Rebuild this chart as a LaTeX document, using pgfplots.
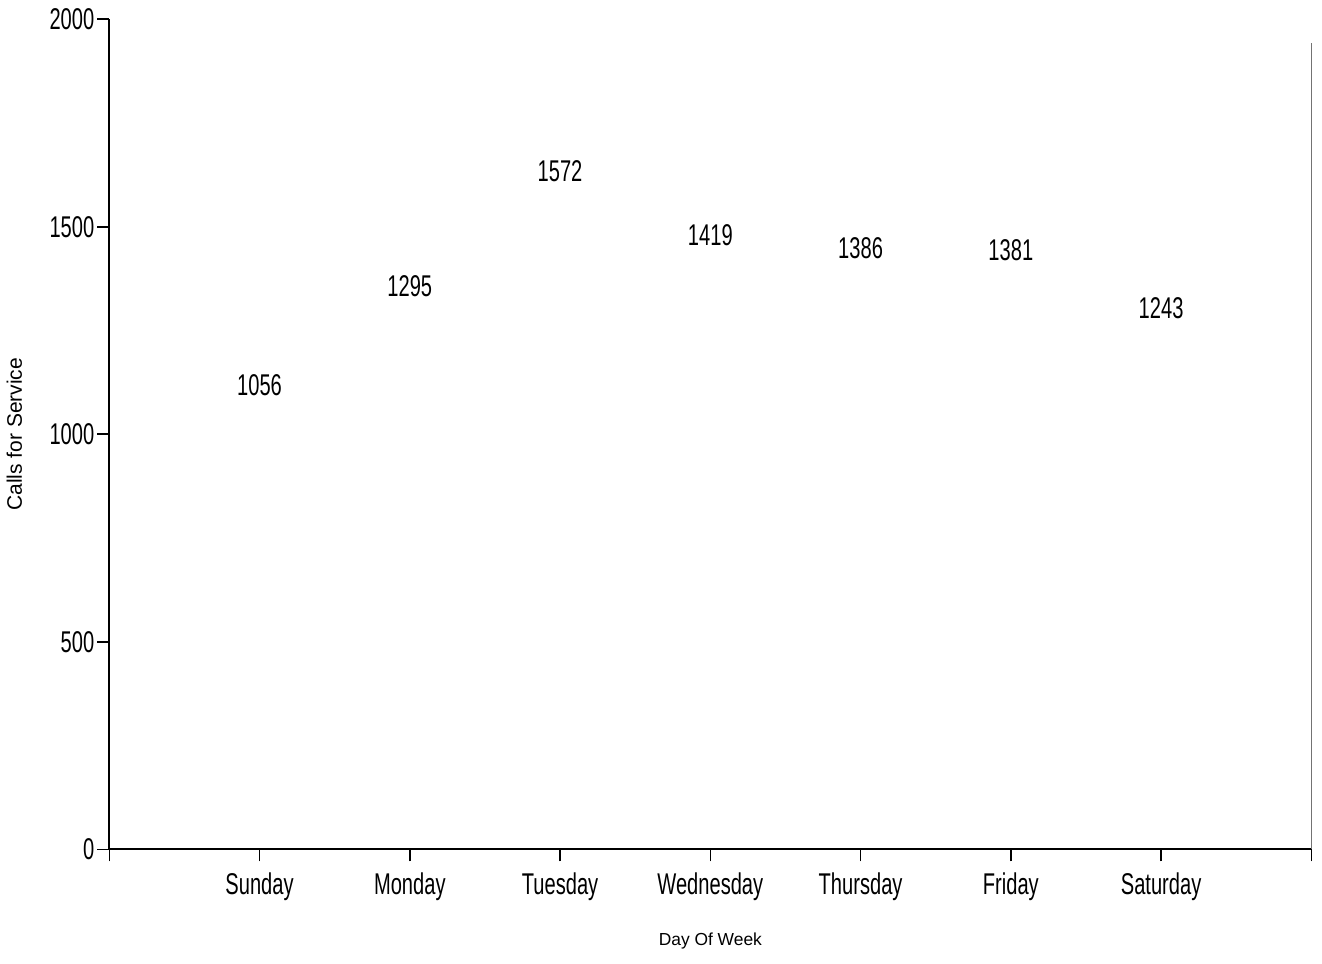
\documentclass[border={0bp 4bp 2bp 1bp}]{standalone}
\usepackage{pgfplots}
\pgfplotsset{compat=1.18}
\usepackage{fontspec}
\setmainfont{Liberation Sans}
\newfontfamily\narrowfont[FakeStretch=0.67]{Liberation Sans}

\begin{document}
\begin{tikzpicture}
\begin{axis}[
    scale only axis,
    width=601bp, height=415bp,
    xmin=0, xmax=8, ymin=0, ymax=2000,
    axis x line*=bottom, axis y line*=left,
    axis line style={line width=0.9pt, -},
    xtick={0,...,8},
    xticklabels={{},Sunday,Monday,Tuesday,Wednesday,Thursday,Friday,Saturday,{}},
    ytick={0,500,1000,1500,2000},
    tick align=outside,
    major tick length=6bp,
    tick style={black, line width=0.8pt},
    /pgf/number format/assume math mode=true,
    /pgf/number format/set thousands separator={},
    ticklabel style={font=\narrowfont\fontsize{15bp}{17bp}\selectfont},
    xticklabel style={yshift=-2bp},
    yticklabel style={xshift=2bp},
    xlabel={Day Of Week},
    ylabel={Calls for Service},
    xlabel style={font=\fontsize{8.7bp}{11bp}\selectfont, at={(axis description cs:0.5,-0.11)}, anchor=center},
    ylabel style={font=\fontsize{10.5bp}{12bp}\selectfont, at={(axis description cs:-0.079,0.5)}, anchor=center},
    ybar, bar width=40bp,
    nodes near coords,
    every node near coord/.append style={font=\narrowfont\fontsize{15bp}{17bp}\selectfont, yshift=4bp, black},
    clip=false,
]
\addplot[draw=none, fill=none] coordinates {(1,1056) (2,1295) (3,1572) (4,1419) (5,1386) (6,1381) (7,1243)};
\draw[black!55, line width=0.8pt] (rel axis cs:1,0) -- (rel axis cs:1,0.972);
\end{axis}
\end{tikzpicture}
\end{document}
